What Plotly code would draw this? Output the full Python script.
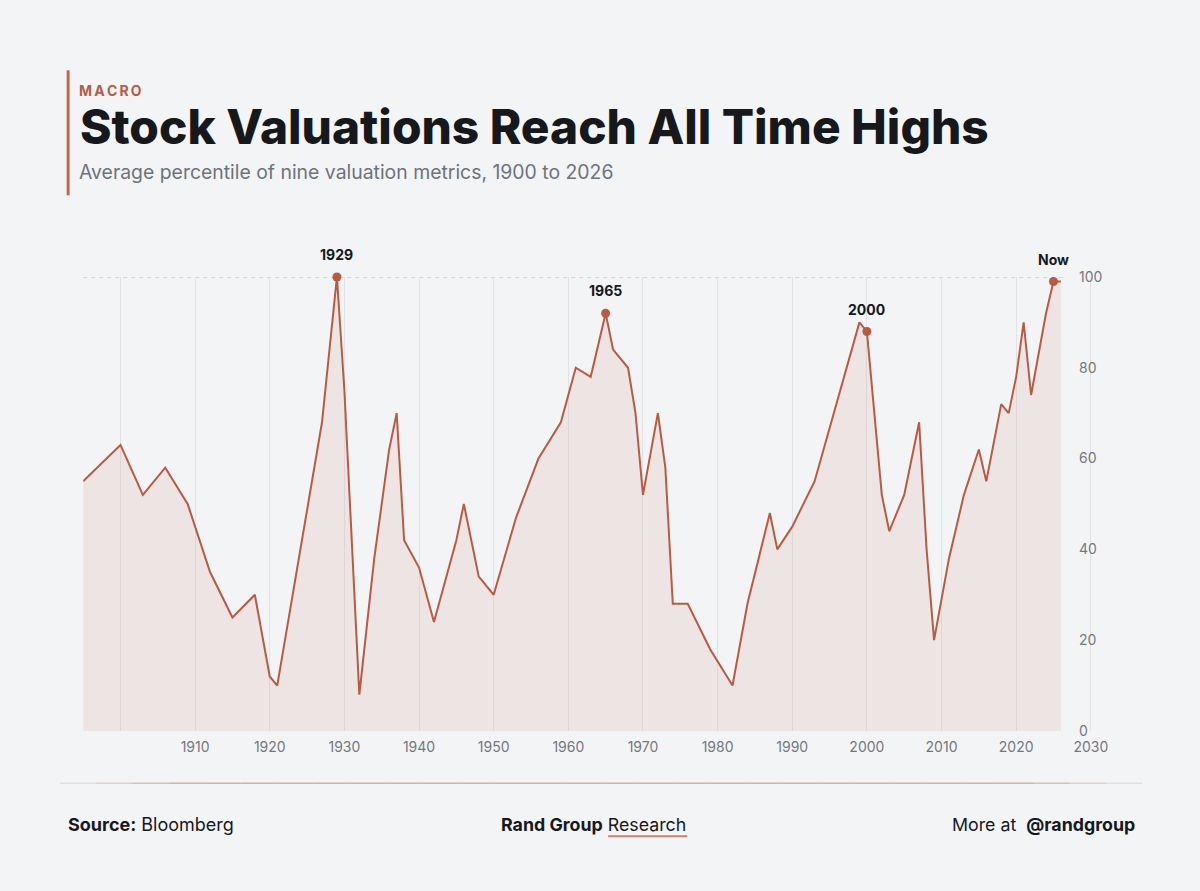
import plotly.graph_objects as go

# ---------------- data ----------------
years = [1895, 1900, 1903, 1906, 1909, 1912, 1915, 1918, 1920, 1921, 1927, 1929, 1930, 1932,
         1934, 1936, 1937, 1938, 1940, 1942, 1945, 1946, 1948, 1950, 1953, 1956, 1959, 1961,
         1963, 1965, 1966, 1968, 1969, 1970, 1972, 1973, 1974, 1976, 1979, 1982, 1984, 1987,
         1988, 1990, 1993, 1999, 2000, 2002, 2003, 2005, 2007, 2008, 2009, 2011, 2013, 2015,
         2016, 2018, 2019, 2020, 2021, 2022, 2024, 2025, 2026]
values = [55, 63, 52, 58, 50, 35, 25, 30, 12, 10, 68, 100, 75, 8,
          38, 62, 70, 42, 36, 24, 42, 50, 34, 30, 47, 60, 68, 80,
          78, 92, 84, 80, 70, 52, 70, 58, 28, 28, 18, 10, 28, 48,
          40, 45, 55, 90, 88, 52, 44, 52, 68, 40, 20, 38, 52, 62,
          55, 72, 70, 78, 90, 74, 92, 99, 99]

peak_years = [1929, 1965, 2000, 2025]
peak_values = [100, 92, 88, 99]
peak_labels = ["1929", "1965", "2000", "Now"]

x_tick_vals = [1900, 1910, 1920, 1930, 1940, 1950, 1960, 1970, 1980, 1990, 2000, 2010, 2020, 2030]
x_tick_text = ["", "1910", "1920", "1930", "1940", "1950", "1960", "1970", "1980", "1990",
               "2000", "2010", "2020", "2030"]
y_tick_vals = [0, 20, 40, 60, 80, 100]

# ---------------- style ----------------
W, H = 1200, 891
BG = "#f3f4f6"
ACCENT = "#b95b42"
DARK = "#16181c"
GRAY = "#6e737a"
FONT = "Inter"

# the rendered page is slightly squeezed; map target pixel positions to paper
VS, VO = 0.981, 8.7
HS = 0.9965


def py(y_px):
    return 1 - ((y_px - VO) / VS) / H


def px(x_px):
    return (x_px / HS) / W


fig = go.Figure()

fig.add_trace(go.Scatter(
    x=years, y=values, mode="lines",
    line=dict(color=ACCENT, width=2),
    fill="tozeroy", fillcolor="rgba(188,105,78,0.11)",
    hoverinfo="skip", showlegend=False, cliponaxis=False,
))

fig.add_trace(go.Scatter(
    x=peak_years, y=peak_values, mode="markers",
    marker=dict(color=ACCENT, size=9),
    hoverinfo="skip", showlegend=False, cliponaxis=False,
))

annotations = []
for yr, v, lab in zip(peak_years, peak_values, peak_labels):
    annotations.append(dict(
        x=yr, y=v, xref="x", yref="y", text=f"<b>{lab}</b>", showarrow=False,
        yshift=22.4, font=dict(family=FONT, size=14, color=DARK),
        xanchor="center", yanchor="middle",
    ))

# header
annotations += [
    dict(x=px(77), y=py(90), xref="paper", yref="paper", xanchor="left", yanchor="middle",
         text="<b>M\u2009A\u2009C\u2009R\u2009O</b>", showarrow=False,
         font=dict(family=FONT, size=14, color=ACCENT)),
    dict(x=px(78), y=py(127), xref="paper", yref="paper", xanchor="left", yanchor="middle",
         text="Stock Valuations Reach All Time Highs", showarrow=False,
         font=dict(family=FONT, size=47.8, color=DARK, weight=800)),
    dict(x=px(77), y=py(172), xref="paper", yref="paper", xanchor="left", yanchor="middle",
         text="Average percentile of nine valuation metrics, 1900 to 2026", showarrow=False,
         font=dict(family=FONT, size=19.4, color=GRAY)),
]

# footer
annotations += [
    dict(x=px(66), y=py(824), xref="paper", yref="paper", xanchor="left", yanchor="middle",
         text="<b>Source:</b> Bloomberg", showarrow=False,
         font=dict(family=FONT, size=18, color=DARK)),
    dict(x=px(592), y=py(824), xref="paper", yref="paper", xanchor="center", yanchor="middle",
         text="<b>Rand Group</b> Research", showarrow=False,
         font=dict(family=FONT, size=17.8, color=DARK)),
    dict(x=px(1135), y=py(824), xref="paper", yref="paper", xanchor="right", yanchor="middle",
         text="More at  <b>@randgroup</b>", showarrow=False,
         font=dict(family=FONT, size=17.8, color=DARK)),
]

shapes = [
    # left accent bar in header
    dict(type="line", xref="paper", yref="paper", x0=px(68), x1=px(68),
         y0=py(70), y1=py(195), line=dict(color="#c0694a", width=3)),
    # dashed 100 reference line
    dict(type="line", xref="x", yref="y", x0=1895, x1=2026.5, y0=100, y1=100,
         line=dict(color="#aeb1b7", width=1, dash="4px,4px"), layer="below"),
    # underline under "Research"
    dict(type="line", xref="paper", yref="paper", x0=px(607), x1=px(686),
         y0=py(836), y1=py(836), line=dict(color="#c9836a", width=2)),
]

# footer divider, faded towards both ends
n_seg = 30
x_a, x_b = 60.0, 1140.0
for i in range(n_seg):
    t0 = i / n_seg
    t1 = (i + 1) / n_seg
    tm = (t0 + t1) / 2
    fade = min(1.0, min(tm, 1 - tm) / 0.12)
    shapes.append(dict(
        type="line", xref="paper", yref="paper",
        x0=px(x_a + (x_b - x_a) * t0), x1=px(x_a + (x_b - x_a) * t1),
        y0=py(783), y1=py(783),
        line=dict(color=f"rgba(190,150,135,{0.15 + 0.55 * fade:.3f})", width=1.5),
    ))

fig.update_layout(
    width=W, height=H,
    margin=dict(l=0, r=0, t=0, b=0),
    paper_bgcolor=BG, plot_bgcolor=BG,
    font=dict(family=FONT, color=GRAY),
    annotations=annotations, shapes=shapes,
    xaxis=dict(
        domain=[px(83.0), px(1103.7)],
        range=[1895, 2032],
        tickvals=x_tick_vals, ticktext=x_tick_text,
        showgrid=True, gridcolor="#e2e2e5", gridwidth=1,
        zeroline=False, showline=False, ticks="",
        tickfont=dict(family=FONT, size=14, color="#74787e"),
        ticklabelstandoff=6,
    ),
    yaxis=dict(
        domain=[py(730.7), py(276.7)],
        range=[0, 100],
        tickvals=y_tick_vals,
        side="right", anchor="free", position=px(1076),
        showgrid=False, zeroline=False, showline=False, ticks="",
        tickfont=dict(family=FONT, size=14, color="#74787e"),
    ),
)

fig.write_html("out.html")
